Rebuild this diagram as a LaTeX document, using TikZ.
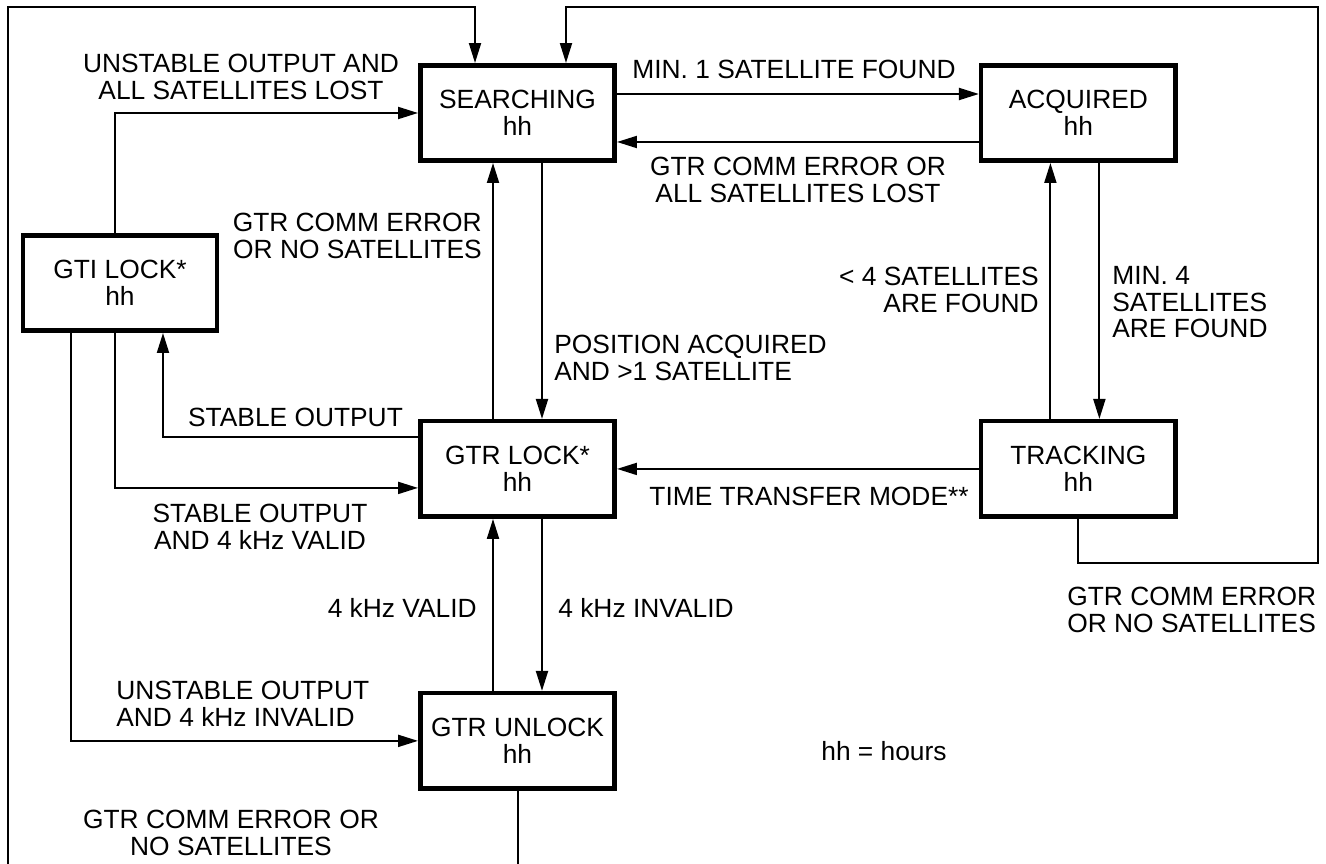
\documentclass[tikz,border=0pt]{standalone}
\usepackage{fontspec}
\setmainfont{Liberation Sans}
\usetikzlibrary{arrows.meta,positioning}

\begin{document}
\begin{tikzpicture}[
  x=0.02cm, y=-0.02cm,
  font=\fontsize{15}{15.4}\selectfont,
  state/.style={rectangle, draw=black, line width=0.09cm, minimum width=3.89cm,
    minimum height=1.91cm, align=center, inner sep=0pt},
  lbl/.style={inner sep=0pt, align=center},
  arr/.style={-{Triangle[length=0.4cm, width=0.24cm]}, line width=0.04cm},
]
  \useasboundingbox (0,0) rectangle (1326,864);
  \clip (0,0) rectangle (1326,864);

  \node[state] (search) at (517.5,113) {SEARCHING\\hh};
  \node[state, right=7.24cm of search] (acquired) {ACQUIRED\\hh};
  \node[state, below=5.12cm of search] (gtrlock) {GTR LOCK*\\hh};
  \node[state, right=7.24cm of gtrlock] (tracking) {TRACKING\\hh};
  \node[state, below=3.44cm of gtrlock] (gtrunlock) {GTR UNLOCK\\hh};
  \node[state] (gtilock) at (120,283) {GTI LOCK*\\hh};

  \node[lbl] (unstall) at (241,76.5) {UNSTABLE OUTPUT AND\\ALL SATELLITES LOST};
  \node[lbl] (minone) at (794,69) {MIN. 1 SATELLITE FOUND};
  \node[lbl] (commacq) at (798,180) {GTR COMM ERROR OR\\ALL SATELLITES LOST};
  \node[lbl, anchor=east, align=right] (commsrch) at (482,235.5) {GTR COMM ERROR\\OR NO SATELLITES};
  \node[lbl, anchor=east, align=right] (lessfour) at (1039,290) {< 4 SATELLITES\\ARE FOUND};
  \node[lbl, anchor=west, align=left] (minfour) at (1112,302) {MIN. 4\\SATELLITES\\[-1pt]ARE FOUND};
  \node[lbl, anchor=west, align=left] (posacq) at (554,357.5) {POSITION ACQUIRED\\AND >1 SATELLITE};
  \node[lbl] (stable) at (295.5,417) {STABLE OUTPUT};
  \node[lbl] (ttmode) at (809,496) {TIME TRANSFER MODE**};
  \node[lbl] (stablevalid) at (260,527) {STABLE OUTPUT\\AND 4 kHz VALID};
  \node[lbl, anchor=east] (valid) at (477,608) {4 kHz VALID};
  \node[lbl, anchor=west] (invalid) at (558,608) {4 kHz INVALID};
  \node[lbl, anchor=west, align=left] (unstinvalid) at (116,703.5) {UNSTABLE OUTPUT\\AND 4 kHz INVALID};
  \node[lbl, anchor=west, align=left] (commtrk) at (1067,610) {GTR COMM ERROR\\OR NO SATELLITES};
  \node[lbl, anchor=west] (hours) at (821,751) {hh = hours};
  \node[lbl] (communl) at (231,832.5) {GTR COMM ERROR OR\\NO SATELLITES};

  \coordinate (lowleft) at (8,900);
  \coordinate (topleft) at (8,7);
  \coordinate (lowright) at (1318,563);
  \coordinate (topright) at (1318,7);

  \draw[arr] ([yshift=0.38cm]search.east) -- ([yshift=0.38cm]acquired.west);
  \draw[arr] ([yshift=-0.58cm]acquired.west) -- ([yshift=-0.58cm]search.east);
  \draw[arr] ([xshift=0.49cm]search.south) -- ([xshift=0.49cm]gtrlock.north);
  \draw[arr] ([xshift=-0.49cm]gtrlock.north) -- ([xshift=-0.49cm]search.south);
  \draw[arr] ([xshift=0.49cm]gtrlock.south) -- ([xshift=0.49cm]gtrunlock.north);
  \draw[arr] ([xshift=-0.49cm]gtrunlock.north) -- ([xshift=-0.49cm]gtrlock.south);
  \draw[arr] ([xshift=0.42cm]acquired.south) -- ([xshift=0.42cm]tracking.north);
  \draw[arr] ([xshift=-0.56cm]tracking.north) -- ([xshift=-0.56cm]acquired.south);
  \draw[arr] (tracking.west) -- (gtrlock.east);
  \draw[arr] ([xshift=-0.1cm]gtilock.north) |- (search.west);
  \draw[arr] ([yshift=0.64cm]gtrlock.west) -| ([xshift=0.86cm]gtilock.south);
  \draw[arr] ([xshift=-0.1cm]gtilock.south) |- ([yshift=-0.38cm]gtrlock.west);
  \draw[arr] ([xshift=-0.98cm]gtilock.south) |- (gtrunlock.west);
  \draw[arr] (gtrunlock.south) |- (lowleft) -- (topleft) -| ([xshift=-0.85cm]search.north);
  \draw[arr] (tracking.south) |- (lowright) -- (topright) -| ([xshift=0.97cm]search.north);
\end{tikzpicture}
\end{document}
